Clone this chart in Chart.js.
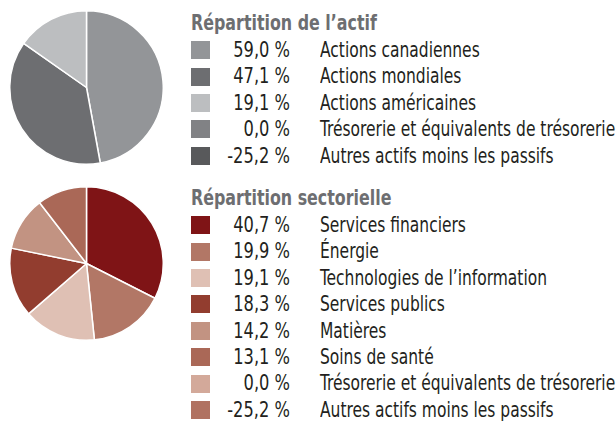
<!DOCTYPE html>
<html lang="fr">
<head>
<meta charset="utf-8">
<script src="https://cdn.jsdelivr.net/npm/chart.js@4/dist/chart.umd.min.js"></script>
<style>
	html, body { margin: 0; padding: 0; background: #fff; }
	body { width: 616px; height: 421px; position: relative; overflow: hidden;
		font-family: "Liberation Sans Narrow", "DejaVu Sans Condensed", sans-serif; color: #231f20; }
	.pie { position: absolute; left: 9px; width: 155px; height: 155px; }
	.legend { position: absolute; left: 191px; }
	.legend .title { font-weight: bold; color: #6d6e71; font-size: 21px; line-height: 28px; height: 28px;
		white-space: nowrap; transform: scaleX(0.84); transform-origin: left center; }
	.legend .row { height: 26.4px; line-height: 26.4px; font-size: 21px; white-space: nowrap; display: flex; align-items: center; }
	.legend .box { width: 19px; height: 18px; flex: none; }
	.legend .val { width: 80px; flex: none; text-align: right; }
	.legend .val span { display: inline-block; transform: scaleX(0.86); transform-origin: right center; }
	.legend .lab { margin-left: 30px; display: inline-block; transform: scaleX(0.82); transform-origin: left center; }
</style>
</head>
<body>
<div class="pie" style="top: 10px;"><canvas id="chart-asset"></canvas></div>
<div class="legend" id="legend-asset" style="top: 9px;"></div>
<div class="pie" style="top: 185.5px;"><canvas id="chart-sector"></canvas></div>
<div class="legend" id="legend-sector" style="top: 184px;"></div>
<script>
// Répartition de l'actif
const ASSET_TITLE = "Répartition de l’actif";
const ASSET_LABELS = [
	"Actions canadiennes",
	"Actions mondiales",
	"Actions américaines",
	"Trésorerie et équivalents de trésorerie",
	"Autres actifs moins les passifs",
];
const ASSET_VALUES = [59.0, 47.1, 19.1, 0.0, -25.2];
const ASSET_COLORS = ["#939598", "#6d6e71", "#bcbec0", "#818285", "#58595b"];

// Répartition sectorielle
const SECTOR_TITLE = "Répartition sectorielle";
const SECTOR_LABELS = [
	"Services financiers",
	"Énergie",
	"Technologies de l’information",
	"Services publics",
	"Matières",
	"Soins de santé",
	"Trésorerie et équivalents de trésorerie",
	"Autres actifs moins les passifs",
];
const SECTOR_VALUES = [40.7, 19.9, 19.1, 18.3, 14.2, 13.1, 0.0, -25.2];
const SECTOR_COLORS = ["#7f1416", "#b27766", "#dfc0b4", "#923d2f", "#c29382", "#aa6857", "#d3a99a", "#b07261"];

const fmtPct = (v) => v.toFixed(1).replace(".", ",") + " %";

// Legend (html, built from the same arrays)
const buildLegend = (id, title, labels, values, colors) => {
	const el = document.getElementById(id);
	let html = `<div class="title">${title}</div>`;
	labels.forEach((label, i) => {
		html += `<div class="row"><span class="box" style="background:${colors[i]}"></span>` +
			`<span class="val"><span>${fmtPct(values[i])}</span></span><span class="lab">${label}</span></div>`;
	});
	el.innerHTML = html;
};

// Pie chart: only the positive weights get a slice
const buildPie = (id, labels, values, colors) => {
	return new Chart(document.getElementById(id), {
		type: "pie",
		data: {
			labels: labels,
			datasets: [
				{
					data: values.map((v) => Math.max(v, 0)),
					backgroundColor: colors,
					borderColor: "#ffffff",
					borderWidth: 1.5,
				},
			],
		},
		options: {
			responsive: true,
			maintainAspectRatio: false,
			animation: false,
			layout: { padding: 0 },
			plugins: {
				legend: { display: false },
				tooltip: { enabled: false },
			},
		},
	});
};

buildLegend("legend-asset", ASSET_TITLE, ASSET_LABELS, ASSET_VALUES, ASSET_COLORS);
buildLegend("legend-sector", SECTOR_TITLE, SECTOR_LABELS, SECTOR_VALUES, SECTOR_COLORS);
buildPie("chart-asset", ASSET_LABELS, ASSET_VALUES, ASSET_COLORS);
buildPie("chart-sector", SECTOR_LABELS, SECTOR_VALUES, SECTOR_COLORS);
</script>
</body>
</html>
